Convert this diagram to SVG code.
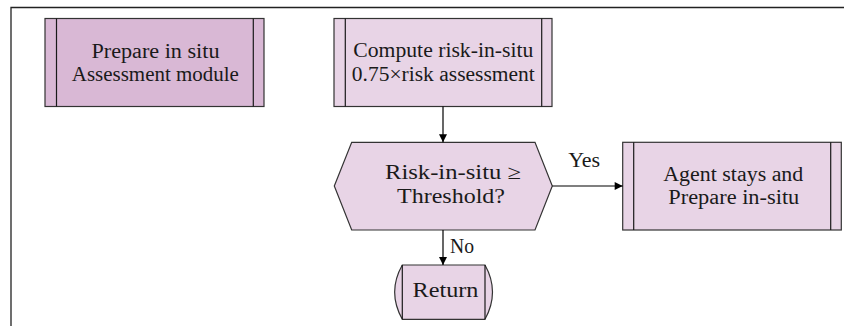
<svg xmlns="http://www.w3.org/2000/svg" width="844" height="326" viewBox="0 0 844 326">
<style>
.t{font-family:"Liberation Serif","DejaVu Serif","Times New Roman",serif;font-size:20px;fill:#1a1a1a;text-anchor:middle}
.box{stroke:#333;stroke-width:1.2}
.dark{fill:#d9b8d5}
.light{fill:#e8d4e6}
.in{stroke:#1a1a1a;stroke-width:1.2;fill:none}
.conn{stroke:#000;stroke-width:1.2;fill:none}
</style>
<defs>
<marker id="ah" viewBox="0 0 10 10" refX="10" refY="5" markerWidth="9" markerHeight="8" markerUnits="userSpaceOnUse" orient="auto">
<path d="M0,0 L10,5 L0,10 Z" fill="#000"/>
</marker>
</defs>
<rect width="844" height="326" fill="#fff"/>
<path d="M11,326 V7.5 H844" stroke="#222" stroke-width="1.3" fill="none"/>
<g id="prepare">
<rect class="box dark" x="45" y="18.5" width="219" height="88"/>
<line class="in" x1="56.5" y1="18.5" x2="56.5" y2="106.5"/>
<line class="in" x1="253.3" y1="18.5" x2="253.3" y2="106.5"/>
<text class="t" x="155.5" y="57.5" textLength="128" lengthAdjust="spacingAndGlyphs">Prepare in situ</text>
<text class="t" x="155.3" y="81" textLength="167" lengthAdjust="spacingAndGlyphs">Assessment module</text>
</g>
<g id="compute">
<rect class="box light" x="334" y="18.5" width="218" height="88"/>
<line class="in" x1="345.3" y1="18.5" x2="345.3" y2="106.5"/>
<line class="in" x1="541.7" y1="18.5" x2="541.7" y2="106.5"/>
<text class="t" x="443.3" y="57.3" textLength="180" lengthAdjust="spacingAndGlyphs">Compute risk-in-situ</text>
<text class="t" x="443.3" y="80.7" textLength="183" lengthAdjust="spacingAndGlyphs">0.75×risk assessment</text>
</g>
<g id="decision">
<polygon class="box light" points="334.3,186 351.7,142.3 535,142.3 552.3,186 535,230 351.7,230"/>
<text class="t" x="453" y="179" textLength="136" lengthAdjust="spacingAndGlyphs">Risk-in-situ ≥</text>
<text class="t" x="451" y="203.3" textLength="108" lengthAdjust="spacingAndGlyphs">Threshold?</text>
</g>
<g id="agent">
<rect class="box light" x="622.7" y="142.3" width="218.6" height="87.7"/>
<line class="in" x1="633.7" y1="142.3" x2="633.7" y2="230"/>
<line class="in" x1="830.7" y1="142.3" x2="830.7" y2="230"/>
<text class="t" x="733.3" y="180.5" textLength="140" lengthAdjust="spacingAndGlyphs">Agent stays and</text>
<text class="t" x="733.8" y="204.3" textLength="131" lengthAdjust="spacingAndGlyphs">Prepare in-situ</text>
</g>
<g id="return">
<path class="box light" d="M402.3,265 H485 Q500,292 485,319.3 H402.3 Q387,292 402.3,265 Z"/>
<line class="in" x1="402.3" y1="265" x2="402.3" y2="319.3"/>
<line class="in" x1="485" y1="265" x2="485" y2="319.3"/>
<text class="t" x="445.5" y="296.7" textLength="66" lengthAdjust="spacingAndGlyphs">Return</text>
</g>
<g id="connectors">
<line class="conn" x1="443" y1="106.5" x2="443" y2="142.3" marker-end="url(#ah)"/>
<line class="conn" x1="552.3" y1="186" x2="622.7" y2="186" marker-end="url(#ah)"/>
<line class="conn" x1="443" y1="230" x2="443" y2="265" marker-end="url(#ah)"/>
<text class="t" x="584.2" y="167.3" textLength="32" lengthAdjust="spacingAndGlyphs">Yes</text>
<text class="t" x="462" y="253" textLength="24" lengthAdjust="spacingAndGlyphs">No</text>
</g>
</svg>
